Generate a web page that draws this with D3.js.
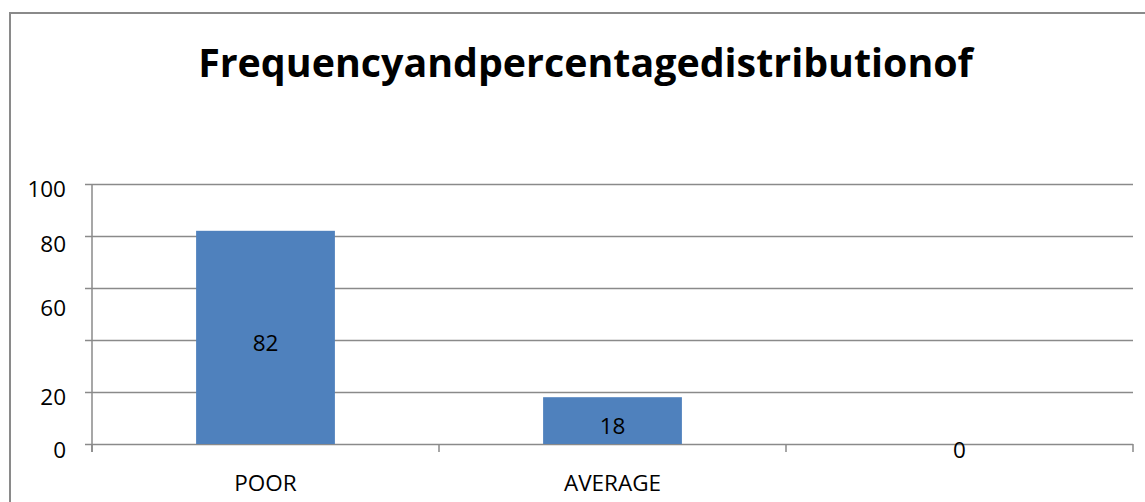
<!DOCTYPE html>
<html>
<head>
<meta charset="utf-8">
<script src="https://cdn.jsdelivr.net/npm/d3@7"></script>
<style>
  html, body { margin: 0; padding: 0; background: #fff; }
  svg { display: block; }
  text { font-family: "Open Sans", "Liberation Sans", sans-serif; fill: #000; }
</style>
</head>
<body>
<svg id="chart" width="1145" height="502"></svg>
<script>
// ---- data ----
const title = "Frequencyandpercentagedistributionof";
const categories = ["POOR", "AVERAGE", ""];
const values = [82, 18, 0];
const yTicks = [0, 20, 40, 60, 80, 100];
const yTickLabels = ["0", "20", "", "60", "80", "100"];

// ---- layout / style ----
const W = 1145, H = 502;
const plot = { left: 92, right: 1133, top: 184, bottom: 444 };
const gridColor = "#8a8a8a";
const barColor = "#4F81BD";
const labelSize = 22.5;
// vertical offsets of the y tick labels as they appear in the reference
const yLabelDy = { "0": 5, "20": 4, "60": 19, "80": 7, "100": 4 };

const svg = d3.select("#chart");

// outer chart border (extends beyond the visible window right & bottom)
svg.append("rect")
  .attr("x", 10).attr("y", 13)
  .attr("width", 1300).attr("height", 700)
  .attr("fill", "none").attr("stroke", gridColor).attr("stroke-width", 2);

const x = d3.scaleBand()
  .domain(categories)
  .range([plot.left, plot.right])
  .paddingInner(0.6)
  .paddingOuter(0.3);

const y = d3.scaleLinear().domain([0, 100]).range([plot.bottom, plot.top]);

// gridlines + y tick marks via axis
const yAxis = d3.axisLeft(y)
  .tickValues(yTicks)
  .tickSize(-(plot.right - plot.left))
  .tickFormat(() => "");
const gy = svg.append("g").attr("transform", `translate(${plot.left},0)`).call(yAxis);
gy.select(".domain").remove();
gy.selectAll(".tick line")
  .attr("x1", -7)
  .attr("stroke", gridColor).attr("stroke-width", 1.5);

// y tick labels
svg.append("g").selectAll("text")
  .data(yTicks)
  .join("text")
  .attr("x", 66)
  .attr("y", d => y(d))
  .attr("dy", (d, i) => (yLabelDy[yTickLabels[i]] || 0))
  .attr("dominant-baseline", "central")
  .attr("text-anchor", "end")
  .attr("font-size", labelSize)
  .text((d, i) => yTickLabels[i]);

// y axis line
svg.append("line")
  .attr("x1", plot.left).attr("x2", plot.left)
  .attr("y1", plot.top).attr("y2", plot.bottom + 8)
  .attr("stroke", gridColor).attr("stroke-width", 1.5);

// x axis ticks at category boundaries
const step = x.step();
const boundaries = d3.range(categories.length + 1).map(i => plot.left + i * step);
svg.append("g").selectAll("line")
  .data(boundaries)
  .join("line")
  .attr("x1", d => d).attr("x2", d => d)
  .attr("y1", plot.bottom).attr("y2", plot.bottom + 8)
  .attr("stroke", gridColor).attr("stroke-width", 1.5);

// bars
svg.append("g").selectAll("rect")
  .data(values)
  .join("rect")
  .attr("x", (d, i) => x(categories[i]))
  .attr("y", d => y(d))
  .attr("width", x.bandwidth())
  .attr("height", d => y(0) - y(d))
  .attr("fill", barColor);

// value labels (centered in bar)
svg.append("g").selectAll("text")
  .data(values)
  .join("text")
  .attr("x", (d, i) => x(categories[i]) + x.bandwidth() / 2)
  .attr("y", d => (y(d) + y(0)) / 2)
  .attr("dy", 5)
  .attr("dominant-baseline", "central")
  .attr("text-anchor", "middle")
  .attr("font-size", labelSize)
  .text(d => d);

// category labels
svg.append("g").selectAll("text")
  .data(categories)
  .join("text")
  .attr("x", d => x(d) + x.bandwidth() / 2)
  .attr("y", 482)
  .attr("dominant-baseline", "central")
  .attr("text-anchor", "middle")
  .attr("font-size", labelSize)
  .text(d => d);

// title, fitted to the reference width
const t = svg.append("text")
  .attr("x", 585.5)
  .attr("y", 77)
  .attr("text-anchor", "middle")
  .attr("font-weight", "bold")
  .attr("font-size", 34)
  .text(title);
const targetW = 775;
const w0 = t.node().getComputedTextLength();
if (w0 > 0) t.attr("font-size", 34 * targetW / w0);
</script>
</body>
</html>
